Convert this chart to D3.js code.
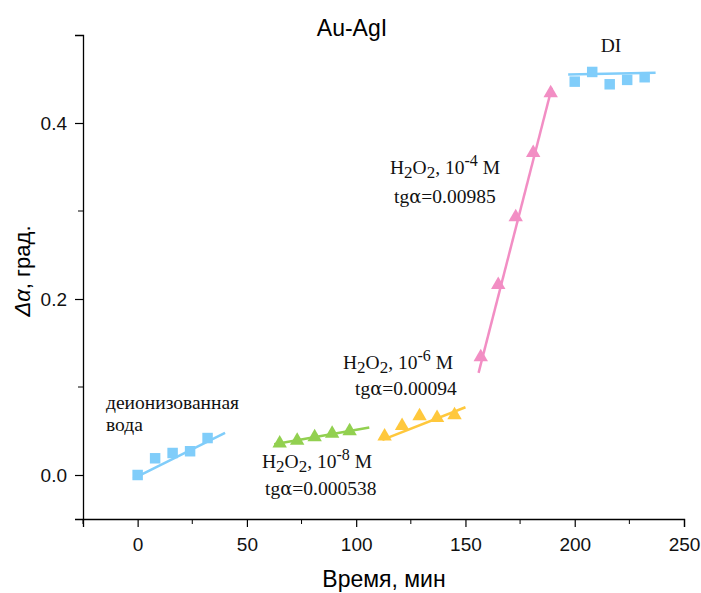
<!DOCTYPE html>
<html>
<head>
<meta charset="utf-8">
<script src="https://cdn.jsdelivr.net/npm/d3@7"></script>
<style>
  body { margin: 0; background: #fff; }
  text { font-family: Arial, "Liberation Sans", sans-serif; }
  .serif { font-family: "Times New Roman", "Liberation Serif", serif; }
</style>
</head>
<body>
<svg id="chart"></svg>
<script>
// data
var diStartX = [0, 8, 16, 24, 32],
    diStartY = [0, 0.019, 0.025, 0.027, 0.042];
var h8X = [65, 73, 81, 89, 97],
    h8Y = [0.036, 0.039, 0.043, 0.047, 0.050];
var h6X = [113, 121, 129, 137, 145],
    h6Y = [0.044, 0.056, 0.067, 0.065, 0.068];
var h4X = [157, 165, 173, 181, 189],
    h4Y = [0.134, 0.216, 0.293, 0.366, 0.434];
var diEndX = [200, 208, 216, 224, 232],
    diEndY = [0.447, 0.458, 0.444, 0.449, 0.452];

// fitted line end points
var fitDiStart = [[-2, -0.004], [40, 0.048]];
var fitH8 = [[62.5, 0.035], [106, 0.054]];
var fitH6 = [[112, 0.040], [150, 0.077]];
var fitH4 = [[156, 0.116], [189.5, 0.440]];
var fitDiEnd = [[197, 0.455], [237, 0.457]];

var xTicks = [0, 50, 100, 150, 200, 250],
    xMinor = [-25, 25, 75, 125, 175, 225],
    yTicks = [0, 0.2, 0.4],
    yMinor = [0.1, 0.3];

var W = 701, H = 593;
var margin = {top: 35, right: 17, bottom: 74, left: 83};

var svg = d3.select("#chart")
    .attr("width", W)
    .attr("height", H);

var x = d3.scaleLinear()
    .domain([-25, 250])
    .range([margin.left, W - margin.right]);
var y = d3.scaleLinear()
    .domain([-0.05, 0.5])
    .range([H - margin.bottom, margin.top]);

// axes
var xAxis = svg.append("g")
    .attr("transform", "translate(0," + (H - margin.bottom) + ")")
    .call(d3.axisBottom(x).tickValues(xTicks).tickSize(8).tickPadding(11).tickFormat(d3.format("d")));
xAxis.append("g").selectAll("line")
    .data(xMinor)
  .enter().append("line")
    .attr("x1", function(d) { return x(d); })
    .attr("x2", function(d) { return x(d); })
    .attr("y1", 0).attr("y2", 5)
    .attr("stroke", "#000");

var yAxis = svg.append("g")
    .attr("transform", "translate(" + margin.left + ",0)")
    .call(d3.axisLeft(y).tickValues(yTicks).tickSize(8).tickPadding(8).tickFormat(d3.format(".1f")));
yAxis.append("g").selectAll("line")
    .data(yMinor)
  .enter().append("line")
    .attr("y1", function(d) { return y(d); })
    .attr("y2", function(d) { return y(d); })
    .attr("x1", 0).attr("x2", -5)
    .attr("stroke", "#000");

[xAxis, yAxis].forEach(function(a) {
  a.select(".domain").attr("stroke-width", 1.3);
  a.selectAll(".tick line").attr("stroke-width", 1.2);
  a.selectAll(".tick text").style("font-size", "19px").attr("fill", "#111");
});

// series
var series = [
  {xs: diStartX, ys: diStartY, fit: fitDiStart, color: "#80cdfa", shape: d3.symbolSquare},
  {xs: h8X, ys: h8Y, fit: fitH8, color: "#92d050", shape: d3.symbolTriangle},
  {xs: h6X, ys: h6Y, fit: fitH6, color: "#ffc83c", shape: d3.symbolTriangle},
  {xs: h4X, ys: h4Y, fit: fitH4, color: "#f28ec4", shape: d3.symbolTriangle},
  {xs: diEndX, ys: diEndY, fit: fitDiEnd, color: "#80cdfa", shape: d3.symbolSquare}
];

var line = d3.line()
    .x(function(d) { return x(d[0]); })
    .y(function(d) { return y(d[1]); });

series.forEach(function(s) {
  var pts = s.xs.map(function(v, i) { return [v, s.ys[i]]; });
  var sym = d3.symbol().type(s.shape).size(s.shape === d3.symbolSquare ? 110 : 90);
  svg.append("g").selectAll("path")
      .data(pts)
    .enter().append("path")
      .attr("d", sym)
      .attr("transform", function(d) { return "translate(" + x(d[0]) + "," + y(d[1]) + ")"; })
      .attr("fill", s.color);
  svg.append("path")
      .datum(s.fit)
      .attr("d", line)
      .attr("fill", "none")
      .attr("stroke", s.color)
      .attr("stroke-width", 2.5);
});

// labels
svg.append("text")
    .attr("x", 352).attr("y", 36)
    .style("font-size", "23px")
    .style("text-anchor", "middle")
    .text("Au-AgI");

svg.append("text")
    .attr("x", 384).attr("y", 587)
    .style("font-size", "23px")
    .style("text-anchor", "middle")
    .text("Время, мин");

svg.append("text")
    .attr("transform", "translate(30,271) rotate(-90)")
    .style("font-size", "22px")
    .style("text-anchor", "middle")
    .html('<tspan font-style="italic">Δα</tspan>, град.');

function serifText(px, py, str) {
  return svg.append("text")
      .attr("class", "serif")
      .attr("x", px).attr("y", py)
      .style("font-size", "19.5px")
      .attr("fill", "#111")
      .text(str);
}

function tgText(px, py, val) {
  var t = svg.append("text")
      .attr("class", "serif")
      .attr("x", px).attr("y", py)
      .style("font-size", "19.5px")
      .attr("fill", "#111");
  t.append("tspan").text("tg");
  t.append("tspan").style("font-family", "'DejaVu Serif', serif").style("font-size", "18px").text("α");
  t.append("tspan").text("=" + val);
}

function h2o2(px, py, pow) {
  var t = svg.append("text")
      .attr("class", "serif")
      .attr("x", px).attr("y", py)
      .style("font-size", "19.5px")
      .attr("fill", "#111");
  t.append("tspan").text("H");
  t.append("tspan").attr("dy", 4).style("font-size", "17px").text("2");
  t.append("tspan").attr("dy", -4).text("O");
  t.append("tspan").attr("dy", 4).style("font-size", "17px").text("2");
  t.append("tspan").attr("dy", -4).text(", 10");
  t.append("tspan").attr("dy", -8).style("font-size", "16px").text(pow);
  t.append("tspan").attr("dy", 8).text(" M");
}

serifText(611, 52, "DI").style("text-anchor", "middle");
serifText(106, 409, "деионизованная");
serifText(106, 431, "вода");

h2o2(262, 468, "-8");
tgText(265, 495, "0.000538");

h2o2(343, 369, "-6");
tgText(355, 395, "0.00094");

h2o2(390, 174, "-4");
tgText(394, 203, "0.00985");
</script>
</body>
</html>
